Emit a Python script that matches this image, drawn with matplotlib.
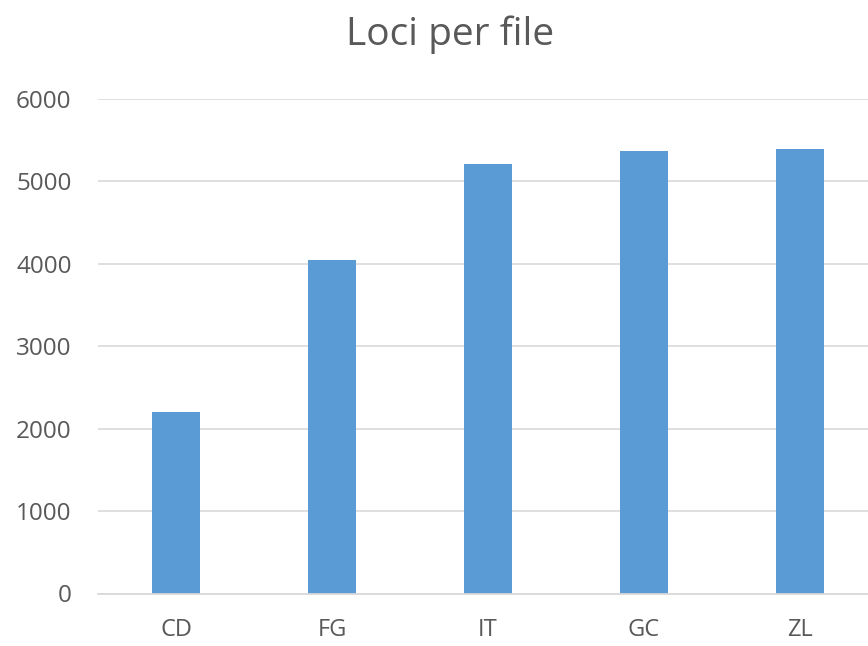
import matplotlib
matplotlib.use("Agg")
import matplotlib.pyplot as plt

categories = ["CD", "FG", "IT", "GC", "ZL"]
values = [2195, 4050, 5210, 5360, 5385]
yticks = [0, 1000, 2000, 3000, 4000, 5000, 6000]

plt.rcParams['font.family'] = ['Open Sans', 'DejaVu Sans']

fig = plt.figure(figsize=(8.68, 6.46), dpi=100)
W, H = 868, 646
ax = fig.add_axes([98 / W, 52.5 / H, 780 / W, 494.8 / H])
x = list(range(len(categories)))
ax.bar(x, values, width=0.313, color="#5b9bd5", zorder=3)
ax.set_xlim(-0.5, len(categories) - 0.5)
ax.set_ylim(0, 6000)
ax.set_yticks(yticks)
ax.set_yticklabels([str(t) for t in yticks])
ax.set_xticks(x)
ax.set_xticklabels(categories)
ax.grid(axis="y", color="#dcdcdc", linewidth=1.3, zorder=0)
for s in ["top", "right", "left"]:
    ax.spines[s].set_visible(False)
ax.spines["bottom"].set_color("#d9d9d9")
ax.spines["bottom"].set_linewidth(1.3)
ax.spines["bottom"].set_zorder(4)
ax.tick_params(axis="both", length=0, colors="#595959")
ax.tick_params(axis="y", pad=19, labelsize=17.5)
ax.tick_params(axis="x", pad=18, labelsize=17)
fig.text(450 / W, 1 - 35 / H, "Loci per file", ha="center", va="center",
         fontsize=28, color="#595959")
fig.savefig("out.png", dpi=100)
